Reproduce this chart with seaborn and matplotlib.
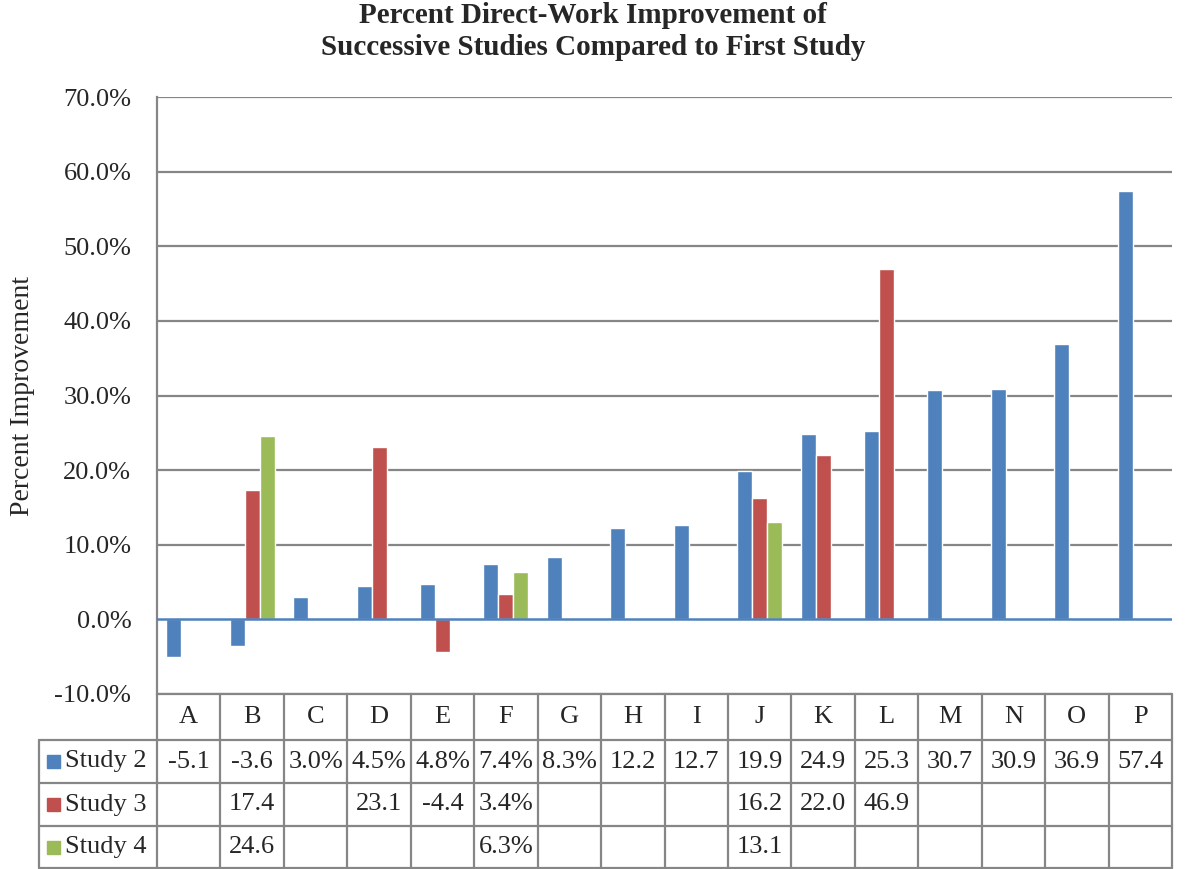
import numpy as np
import pandas as pd
import matplotlib
matplotlib.use("Agg")
import matplotlib.pyplot as plt
import matplotlib.transforms as mtransforms
import seaborn as sns

# =========================
# DATA
# =========================
categories = list("ABCDEFGHIJKLMNOP")
studies = ["Study 2", "Study 3", "Study 4"]

study2 = [-5.1, -3.6, 3.0, 4.5, 4.8, 7.4, 8.3, 12.2, 12.7, 19.9, 24.9, 25.3, 30.7, 30.9, 36.9, 57.4]
study3 = [np.nan, 17.4, np.nan, 23.1, -4.4, 3.4, np.nan, np.nan, np.nan, 16.2, 22.0, 46.9,
          np.nan, np.nan, np.nan, np.nan]
study4 = [np.nan, 24.6, np.nan, np.nan, np.nan, 6.3, np.nan, np.nan, np.nan, 13.1, np.nan, np.nan,
          np.nan, np.nan, np.nan, np.nan]

# labels as printed in the data table (Excel mixes formats)
study2_labels = ["-5.1", "-3.6", "3.0%", "4.5%", "4.8%", "7.4%", "8.3%", "12.2", "12.7", "19.9",
                 "24.9", "25.3", "30.7", "30.9", "36.9", "57.4"]
study3_labels = ["", "17.4", "", "23.1", "-4.4", "3.4%", "", "", "", "16.2", "22.0", "46.9",
                 "", "", "", ""]
study4_labels = ["", "24.6", "", "", "", "6.3%", "", "", "", "13.1", "", "", "", "", "", ""]

colors = ["#4F81BD", "#C0504D", "#9BBB59"]
grid_color = "#868686"

df = pd.DataFrame({
    "category": categories * 3,
    "study": [s for s in studies for _ in categories],
    "value": study2 + study3 + study4,
}).dropna()

# =========================
# PLOT
# =========================
sns.set_style("white")
plt.rcParams["font.family"] = ["Liberation Serif", "DejaVu Serif"]

W, H = 1186, 869
fig = plt.figure(figsize=(W / 100, H / 100), dpi=100)
ax = fig.add_axes([157 / W, 1 - 694 / H, (1172 - 157) / W, (694 - 97) / H])

sns.barplot(data=df, x="category", y="value", hue="study", order=categories,
            hue_order=studies, palette=colors, width=0.71, errorbar=None,
            saturation=1, legend=False, ax=ax)

ax.set_xlim(-0.5, len(categories) - 0.5)
ax.set_ylim(-10, 70)
ax.set_yticks(np.arange(-10, 71, 10))
ax.set_yticklabels([f"{v:.1f}%" for v in np.arange(-10, 71, 10)], fontsize=19)
ax.tick_params(axis="y", length=0, pad=18.5)
ax.set_xticks([])
ax.set_xlabel("")
ax.set_ylabel("Percent Improvement", fontsize=20)
ax.yaxis.set_label_coords((35 - 157) / (1172 - 157), 0.5)

for v in np.arange(-10, 71, 10):
    if v != 0:
        ax.axhline(v, color=grid_color, lw=1.6, zorder=0)
ax.axhline(0, color="#4F81BD", lw=1.8, zorder=3)

for s in ["top", "right", "bottom"]:
    ax.spines[s].set_visible(False)
ax.spines["left"].set_color(grid_color)
ax.spines["left"].set_linewidth(1.6)

fig.text(0.5, 1 - 2 / H,
         "Percent Direct-Work Improvement of\nSuccessive Studies Compared to First Study",
         fontsize=21, fontweight="bold", ha="center", va="top", linespacing=1.25)

# =========================
# DATA TABLE
# =========================
trans = mtransforms.blended_transform_factory(ax.transData, fig.transFigure)
col_w = 1.0 / ((1172 - 157) / len(categories))  # data units per pixel
left_x = -0.5 - (157 - 39) * col_w
right_x = len(categories) - 0.5
row_y = [694, 740, 783, 826, 868]
fy = [1 - y / H for y in row_y]

line_kw = dict(color=grid_color, lw=1.6, transform=trans, clip_on=False)
# horizontal lines
ax.plot([-0.5, right_x], [fy[0], fy[0]], **line_kw)
for y in fy[1:]:
    ax.plot([left_x, right_x], [y, y], **line_kw)
# vertical lines
for i in range(len(categories) + 1):
    ax.plot([i - 0.5, i - 0.5], [fy[0], fy[-1]], **line_kw)
ax.plot([left_x, left_x], [fy[1], fy[-1]], **line_kw)

text_kw = dict(transform=trans, fontsize=19, ha="center", va="center", clip_on=False)
for i, c in enumerate(categories):
    ax.text(i, (fy[0] + fy[1]) / 2, c, **text_kw)

rows = [study2_labels, study3_labels, study4_labels]
for r, (name, labels, col) in enumerate(zip(studies, rows, colors)):
    yc = (fy[r + 1] + fy[r + 2]) / 2
    for i, lab in enumerate(labels):
        if lab:
            ax.text(i, yc, lab, **text_kw)
    fig.patches.append(plt.Rectangle((47 / W, yc - 6.5 / H), 13 / W, 13 / H,
                                     transform=fig.transFigure, color=col, figure=fig))
    fig.text(65 / W, yc, name, fontsize=19, ha="left", va="center")

fig.savefig("out.png", dpi=100)
